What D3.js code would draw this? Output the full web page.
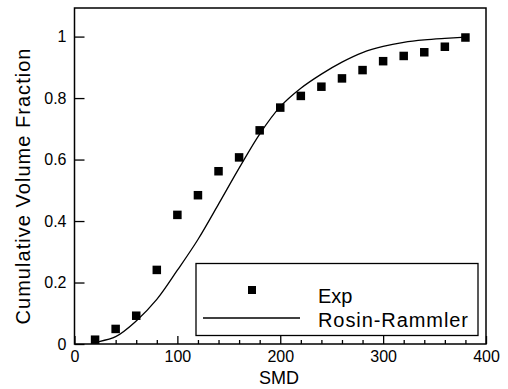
<!DOCTYPE html>
<html>
<head>
<meta charset="utf-8">
<script src="https://cdn.jsdelivr.net/npm/d3@7"></script>
<style>
  body { margin: 0; background: #fff; }
  svg { display: block; font-family: 'Liberation Sans', Arial, sans-serif; }
</style>
</head>
<body>
<svg id="svg" width="508" height="389"></svg>
<script>
// measured points (Exp)
const expSmd = [20, 40, 60, 80, 100, 120, 140, 160, 180, 200, 220, 240, 260, 280, 300, 320, 340, 360, 380]
const expFrac = [0.014, 0.049, 0.092, 0.241, 0.42, 0.484, 0.562, 0.607, 0.695, 0.769, 0.807, 0.837, 0.864, 0.891, 0.92, 0.937, 0.949, 0.967, 0.997]

// Rosin-Rammler curve
const rrSmd = [18, 20, 40, 60, 80, 100, 120, 140, 160, 180, 200, 220, 240, 260, 280, 300, 320, 340, 360, 380]
const rrFrac = [0.003, 0.005, 0.024, 0.075, 0.145, 0.24, 0.34, 0.455, 0.572, 0.683, 0.772, 0.832, 0.878, 0.917, 0.948, 0.968, 0.981, 0.989, 0.994, 0.998]

const xTicks = [0, 100, 200, 300, 400]
const xMinorTicks = [20, 40, 60, 80, 120, 140, 160, 180, 220, 240, 260, 280, 320, 340, 360, 380]
const yTicks = [0, 0.2, 0.4, 0.6, 0.8, 1]
const yTickLabels = ['0', '0.2', '0.4', '0.6', '0.8', '1']

const seriesNames = ['Exp', 'Rosin-Rammler']

const svg = d3.select('#svg')

const xScale = d3.scaleLinear()
  .domain([0, 400])
  .range([74.5, 486])

const yScale = d3.scaleLinear()
  .domain([0, 1.093])
  .range([344, 8])

const exp = expSmd.map((x, i) => ({ x, y: expFrac[i] }))
const rr = rrSmd.map((x, i) => ({ x, y: rrFrac[i] }))

// minor x ticks
svg.append('g')
  .attr('transform', 'translate(0, 344)')
  .call(d3.axisBottom(xScale).tickValues(xMinorTicks).tickSize(-4).tickSizeOuter(0).tickFormat(''))
  .call(g => g.select('.domain').remove())
  .call(g => g.selectAll('line').attr('stroke', '#000').attr('stroke-width', 1.3))

// major x ticks
svg.append('g')
  .attr('transform', 'translate(0, 344)')
  .call(d3.axisBottom(xScale).tickValues(xTicks).tickSize(-8).tickSizeOuter(0).tickPadding(7))
  .call(g => g.select('.domain').remove())
  .call(g => g.selectAll('line').attr('stroke', '#000').attr('stroke-width', 1.3))
  .call(g => g.selectAll('text').attr('font-size', 16).attr('fill', '#000').attr('font-family', "'Liberation Sans', Arial, sans-serif"))

svg.append('g')
  .attr('transform', 'translate(74.5, 0)')
  .call(d3.axisLeft(yScale).tickValues(yTicks).tickSize(-10).tickSizeOuter(0).tickPadding(8)
    .tickFormat((d, i) => yTickLabels[i]))
  .call(g => g.select('.domain').remove())
  .call(g => g.selectAll('line').attr('stroke', '#000').attr('stroke-width', 1.3))
  .call(g => g.selectAll('text').attr('font-size', 16).attr('fill', '#000').attr('font-family', "'Liberation Sans', Arial, sans-serif"))

// frame
svg.append('rect')
  .attr('x', xScale(0))
  .attr('y', yScale(1.093))
  .attr('width', xScale(400) - xScale(0))
  .attr('height', yScale(0) - yScale(1.093))
  .attr('fill', 'none')
  .attr('stroke', '#000')
  .attr('stroke-width', 1.5)

const lineGen = d3.line()
  .x(d => xScale(d.x))
  .y(d => yScale(d.y))
  .curve(d3.curveCatmullRom)

svg.append('path')
  .attr('d', lineGen(rr))
  .attr('fill', 'none')
  .attr('stroke', '#000')
  .attr('stroke-width', 1.3)

const sq = 8.5
svg.append('g')
  .selectAll('rect')
  .data(exp)
  .join('rect')
  .attr('x', d => xScale(d.x) - sq / 2)
  .attr('y', d => yScale(d.y) - sq / 2)
  .attr('width', sq)
  .attr('height', sq)
  .attr('fill', '#000')

// axis titles
svg.append('text')
  .attr('x', 279)
  .attr('y', 384)
  .attr('text-anchor', 'middle')
  .attr('font-size', 18)
  .text('SMD')

svg.append('text')
  .attr('transform', 'translate(29.5, 186.5) rotate(-90)')
  .attr('text-anchor', 'middle')
  .attr('font-size', 20)
  .attr('textLength', 276)
  .text('Cumulative Volume Fraction')

// legend
const legend = svg.append('g')
legend.append('rect')
  .attr('x', 196)
  .attr('y', 263.5)
  .attr('width', 282)
  .attr('height', 72)
  .attr('fill', '#fff')
  .attr('stroke', '#000')
  .attr('stroke-width', 1.3)

legend.append('rect')
  .attr('x', 252 - 4)
  .attr('y', 290 - 4)
  .attr('width', 8)
  .attr('height', 8)
  .attr('fill', '#000')

legend.append('line')
  .attr('x1', 203)
  .attr('x2', 300)
  .attr('y1', 318)
  .attr('y2', 318)
  .attr('stroke', '#000')
  .attr('stroke-width', 1.3)

legend.append('text')
  .attr('x', 318)
  .attr('y', 302.5)
  .attr('font-size', 20)
  .text(seriesNames[0])

legend.append('text')
  .attr('x', 318)
  .attr('y', 327)
  .attr('font-size', 20)
  .attr('textLength', 150)
  .text(seriesNames[1])
</script>
</body>
</html>
